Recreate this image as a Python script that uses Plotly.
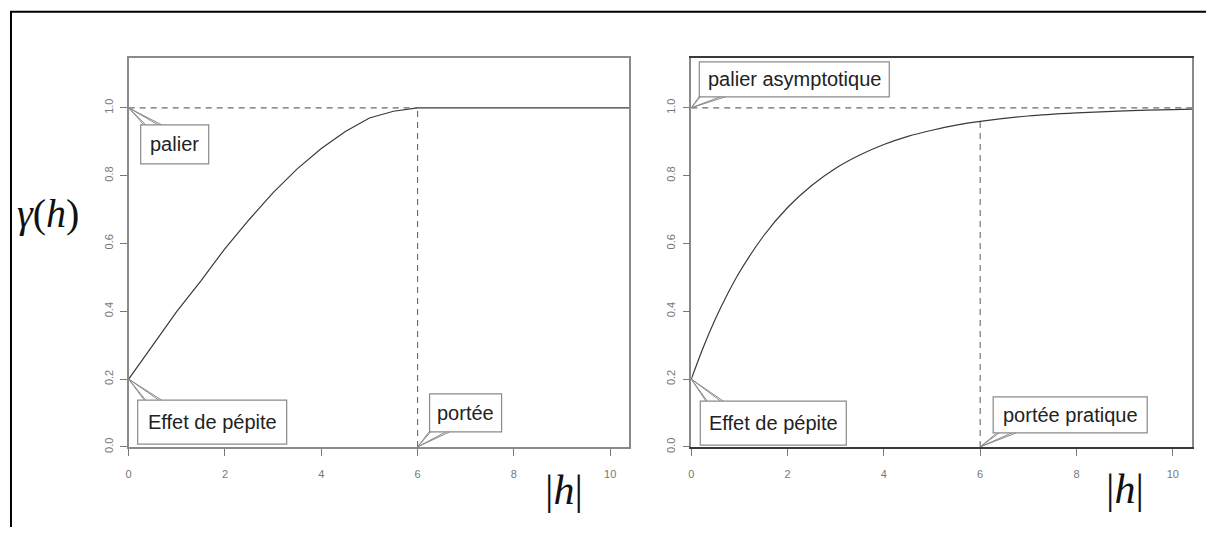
import plotly.graph_objects as go

W, H = 1206, 533

# ---- data ----
h_sph = [0, 0.5, 1, 1.5, 2, 2.5, 3, 3.5, 4, 4.5, 5, 5.5, 6, 7, 8, 9, 10, 10.4]
g_sph = [0.20, 0.30, 0.40, 0.49, 0.585, 0.67, 0.75, 0.82, 0.88, 0.93, 0.97, 0.99,
         1.00, 1.00, 1.00, 1.00, 1.00, 1.00]

h_exp = [0, 0.25, 0.5, 0.75, 1, 1.5, 2, 2.5, 3, 3.5, 4, 4.5, 5, 5.5, 6, 7, 8, 9, 10, 10.4]
g_exp = [0.20, 0.294, 0.377, 0.450, 0.515, 0.622, 0.706, 0.771, 0.822, 0.861, 0.892,
         0.916, 0.934, 0.949, 0.960, 0.976, 0.985, 0.991, 0.995, 0.996]

nugget = 0.2
sill = 1.0
range_sph = 6
range_exp = 6
sill_at_practical_range = 0.96

x_ticks = [0, 2, 4, 6, 8, 10]
y_ticks = [0.0, 0.2, 0.4, 0.6, 0.8, 1.0]
y_ticktext = ["0.0", "0.2", "0.4", "0.6", "0.8", "1.0"]

X_MAX = 10.4
Y_MAX = 1.146

CURVE = "#3a3a3a"
DASH = "#6a6a6a"
BOX = "#8a8a8a"
BOX_DARK = "#3a3a3a"

fig = go.Figure()

# curves
fig.add_trace(go.Scatter(x=h_sph, y=g_sph, mode="lines", xaxis="x", yaxis="y",
                         line=dict(color=CURVE, width=1.2),
                         showlegend=False, hoverinfo="skip"))
fig.add_trace(go.Scatter(x=h_exp, y=g_exp, mode="lines", xaxis="x2", yaxis="y2",
                         line=dict(color=CURVE, width=1.2, shape="spline", smoothing=0.8),
                         showlegend=False, hoverinfo="skip"))

# dashed reference lines
dash_style = dict(color=DASH, width=1.1, dash="6px,5px")
fig.add_trace(go.Scatter(x=[0, range_sph], y=[sill, sill], mode="lines", xaxis="x", yaxis="y",
                         line=dash_style, showlegend=False, hoverinfo="skip"))
fig.add_trace(go.Scatter(x=[range_sph, range_sph], y=[0, sill], mode="lines", xaxis="x", yaxis="y",
                         line=dash_style, showlegend=False, hoverinfo="skip"))
fig.add_trace(go.Scatter(x=[0, X_MAX], y=[sill, sill], mode="lines", xaxis="x2", yaxis="y2",
                         line=dash_style, showlegend=False, hoverinfo="skip"))
fig.add_trace(go.Scatter(x=[range_exp, range_exp], y=[0, sill_at_practical_range], mode="lines",
                         xaxis="x2", yaxis="y2", line=dash_style, showlegend=False, hoverinfo="skip"))

axis_common = dict(showgrid=False, zeroline=False, showline=True, mirror=True,
                   linewidth=1.5, ticks="outside", ticklen=7,
                   tickcolor="#777", tickwidth=1,
                   tickfont=dict(family="Liberation Sans, Arial", size=11, color="#777"))

xdom1 = [126 / W, 628 / W]
xdom2 = [690 / W, 1192 / W]
ydom = [1 - 452 / H, 1 - 59 / H]

fig.update_layout(
    width=W, height=H, margin=dict(l=0, r=0, t=0, b=0),
    paper_bgcolor="white", plot_bgcolor="white",
    xaxis=dict(domain=xdom1, range=[0, X_MAX], tickvals=x_ticks, anchor="y",
               linecolor=BOX, ticklabelstandoff=9, **axis_common),
    yaxis=dict(domain=ydom, range=[0, Y_MAX], tickvals=y_ticks, ticktext=y_ticktext,
               tickangle=-90, anchor="x", linecolor=BOX, ticklabelstandoff=3, **axis_common),
    xaxis2=dict(domain=xdom2, range=[0, X_MAX], tickvals=x_ticks, anchor="y2",
                linecolor=BOX_DARK, ticklabelstandoff=9, **axis_common),
    yaxis2=dict(domain=ydom, range=[0, Y_MAX], tickvals=y_ticks, ticktext=y_ticktext,
                tickangle=-90, anchor="x2", linecolor=BOX, ticklabelstandoff=3, **axis_common),
)

shapes = []
annotations = []

# outer frame (left and top edges)
fx = 8 / W
fy = 1 - 12 / H
shapes.append(dict(type="path", xref="paper", yref="paper",
                   path=f"M {fx},0 L {fx},{fy} L 1,{fy}",
                   line=dict(color="black", width=2)))

# callouts: (text, xref, yref, anchor x, anchor y, box (dx0, dy0, dx1, dy1) in screen px,
#            tail base (dxa, dxb, dy))
callouts = [
    ("palier", "x", "y", 0, sill, (12, 17, 80, 56), (17, 33, 17)),
    ("Effet de pépite", "x", "y", 0, nugget, (9, 21, 158, 65), (17, 33, 21)),
    ("portée", "x", "y", range_sph, 0, (12, -53, 84, -15), (13, 32, -15)),
    ("palier asymptotique", "x2", "y2", 0, sill, (8, -46, 198, -11), (9, 34, -11)),
    ("Effet de pépite", "x2", "y2", 0, nugget, (9, 22, 155, 66), (16, 32, 22)),
    ("portée pratique", "x2", "y2", range_exp, 0, (13, -50, 167, -14), (19, 36, -14)),
]

for text, xr, yr, ax, ay, (bx0, by0, bx1, by1), (ta, tb, tdy) in callouts:
    inset = 2 if tdy > 0 else -2
    shapes.append(dict(type="path", xref=xr, yref=yr, xsizemode="pixel", ysizemode="pixel",
                       xanchor=ax, yanchor=ay,
                       path=f"M 0,0 L {ta},{-(tdy + inset)} L {tb},{-(tdy + inset)} Z",
                       fillcolor="white", line=dict(color=BOX, width=1)))
    shapes.append(dict(type="rect", xref=xr, yref=yr, xsizemode="pixel", ysizemode="pixel",
                       xanchor=ax, yanchor=ay, x0=bx0, x1=bx1, y0=-by0, y1=-by1,
                       fillcolor="white", line=dict(color=BOX, width=1.2)))
    shapes.append(dict(type="path", xref=xr, yref=yr, xsizemode="pixel", ysizemode="pixel",
                       xanchor=ax, yanchor=ay,
                       path=f"M {ta},{-tdy} L 0,0 L {tb},{-tdy}",
                       line=dict(color=BOX, width=1)))
    annotations.append(dict(text=text, xref=xr, yref=yr, x=ax, y=ay, showarrow=False,
                            xanchor="center", yanchor="middle",
                            xshift=(bx0 + bx1) / 2, yshift=-(by0 + by1) / 2,
                            font=dict(family="Liberation Sans, Arial", size=20, color="#222")))

# axis labels
annotations.append(dict(text="<i>γ</i>(<i>h</i>)", xref="paper", yref="paper",
                        x=45 / W, y=1 - 216 / H, showarrow=False, xanchor="center", yanchor="middle",
                        font=dict(family="Liberation Serif, serif", size=40, color="#111")))
for cx, cy in [(562, 496), (1125, 495)]:
    annotations.append(dict(text="|<i>h</i>|", xref="paper", yref="paper",
                            x=cx / W, y=1 - cy / H, showarrow=False, xanchor="center", yanchor="middle",
                            font=dict(family="Liberation Serif, serif", size=42, color="#111")))

fig.update_layout(shapes=shapes, annotations=annotations)
fig.write_html("out.html", config={"displayModeBar": False},
               post_script="document.body.style.margin='0';")
